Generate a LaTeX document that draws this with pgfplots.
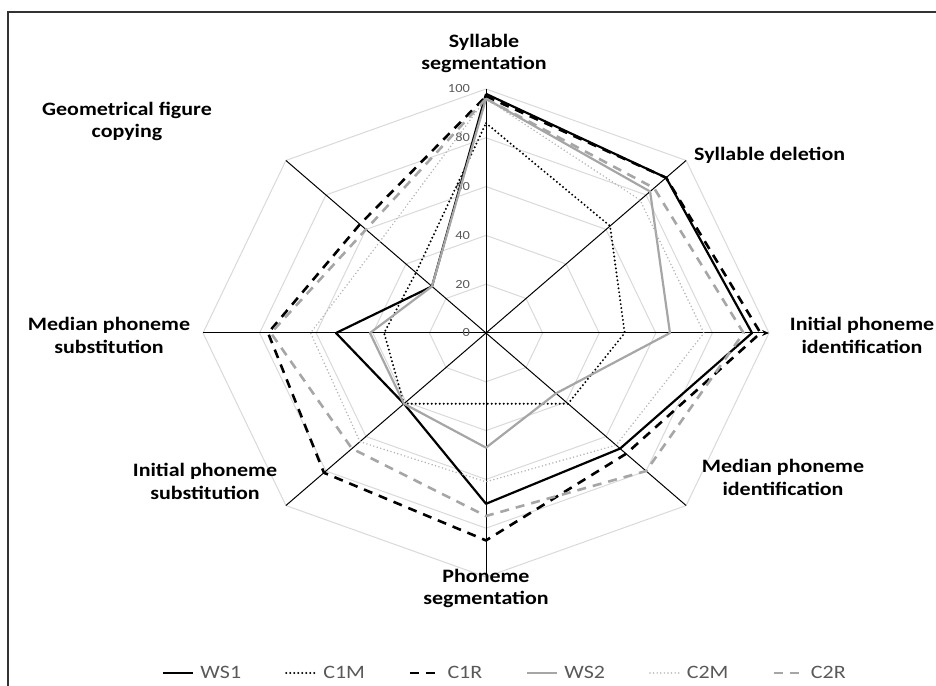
\documentclass[border=0pt]{standalone}
\usepackage{pgfplots}
\pgfplotsset{compat=1.18}
\usepackage{pgfplotstable}
\usepackage{fontspec}
\setmainfont{Carlito}[FakeStretch=1.16]
\usetikzlibrary{arrows.meta}
\definecolor{gridc}{HTML}{D9D9D9}
\definecolor{grayA}{HTML}{A6A6A6}
\definecolor{grayB}{HTML}{B4B4B4}
\definecolor{legc}{HTML}{595959}

\pgfplotstableread{
ang WS1 C1M C1R WS2 C2M C2R
90 98 86 97 96 96 96
45 90 62 90 82 77 84
0 94 49 97 65 77 91
-45 67 41 70 35 65 80
-90 70 29 85 47 61 75
-135 41 41 81 41 63 67
-180 53 36 77 41 62 76
-225 27 35 63 27 53 60
-270 98 86 97 96 96 96
}\radar

\begin{document}
\begin{tikzpicture}[x=1bp,y=1bp]
\useasboundingbox (0,0) rectangle (936,686);
\draw[black!80, line width=1.5bp] (8,-5) -- (8,674) -- (945,674);
\begin{axis}[
  at={(188.85bp,96.8bp)}, anchor=south west,
  x=2.83bp, y=2.44bp,
  xmin=-105, xmax=105, ymin=-105, ymax=105,
  hide axis, clip=false,
  legend columns=6,
  legend style={at={(0.532,-0.1635)}, anchor=center, draw=none, fill=none,
    font=\fontsize{19}{23}\selectfont, text=legc,
    /tikz/every odd column/.append style={column sep=4bp},
    /tikz/every even column/.append style={column sep=42bp},
    inner sep=0pt},
  legend image code/.code={\draw[#1] (0bp,0bp) -- (30bp,0bp);},
]
% grid
\pgfplotsinvokeforeach{20,40,60,80,100}{
  \draw[gridc, line width=1bp] (axis cs:0,#1) -- (axis cs:{0.7071*#1},{0.7071*#1}) -- (axis cs:#1,0) -- (axis cs:{0.7071*#1},{-0.7071*#1}) -- (axis cs:0,-#1) -- (axis cs:{-0.7071*#1},{-0.7071*#1}) -- (axis cs:-#1,0) -- (axis cs:{-0.7071*#1},{0.7071*#1}) -- cycle;
}
% spokes
\draw[black, line width=1bp] (axis cs:0,0) -- (axis cs:0,100);
\draw[black, line width=1bp] (axis cs:0,0) -- (axis cs:70.71,70.71);
\draw[black, line width=1bp, -{Stealth[length=7bp,width=6bp]}] (axis cs:0,0) -- (axis cs:100,0);
\draw[black, line width=1bp] (axis cs:0,0) -- (axis cs:70.71,-70.71);
\draw[black, line width=1bp] (axis cs:0,0) -- (axis cs:0,-100);
\draw[black, line width=1bp] (axis cs:0,0) -- (axis cs:-70.71,-70.71);
\draw[black, line width=1bp] (axis cs:0,0) -- (axis cs:-100,0);
\draw[black, line width=1bp] (axis cs:0,0) -- (axis cs:-70.71,70.71);
% ticks
\pgfplotsinvokeforeach{0,20,40,60,80,100}{
  \node[anchor=east, inner sep=0pt, text=legc, font=\fontsize{12.5}{14}\selectfont] at (axis cs:-5.6,#1) {#1};
}
% series
\addplot[black, line width=2.2bp, line join=round] table[x expr={\thisrow{WS1}*cos(\thisrow{ang})}, y expr={\thisrow{WS1}*sin(\thisrow{ang})}] {\radar};
\addlegendentry{WS1}
\addplot[black, line width=2.2bp, line cap=round, dash pattern=on 0bp off 4bp] table[x expr={\thisrow{C1M}*cos(\thisrow{ang})}, y expr={\thisrow{C1M}*sin(\thisrow{ang})}] {\radar};
\addlegendentry{C1M}
\addplot[black, line width=2.6bp, dash pattern=on 9bp off 7bp] table[x expr={\thisrow{C1R}*cos(\thisrow{ang})}, y expr={\thisrow{C1R}*sin(\thisrow{ang})}] {\radar};
\addlegendentry{C1R}
\addplot[grayA, line width=2.2bp, line join=round] table[x expr={\thisrow{WS2}*cos(\thisrow{ang})}, y expr={\thisrow{WS2}*sin(\thisrow{ang})}] {\radar};
\addlegendentry{WS2}
\addplot[grayB, line width=1.7bp, line cap=round, dash pattern=on 0bp off 3.6bp] table[x expr={\thisrow{C2M}*cos(\thisrow{ang})}, y expr={\thisrow{C2M}*sin(\thisrow{ang})}] {\radar};
\addlegendentry{C2M}
\addplot[grayA, line width=2.6bp, dash pattern=on 9bp off 7bp] table[x expr={\thisrow{C2R}*cos(\thisrow{ang})}, y expr={\thisrow{C2R}*sin(\thisrow{ang})}] {\radar};
\addlegendentry{C2R}
\end{axis}
% category labels
\begin{scope}[every node/.style={align=center, font=\bfseries\fontsize{19}{23}\selectfont, inner sep=0pt}]
\node at (484,632.5) {Syllable\\segmentation};
\node[anchor=west] at (694,531) {Syllable deletion};
\node at (862,351) {Initial phoneme\\identification};
\node at (783,208.5) {Median phoneme\\identification};
\node at (486,97.5) {Phoneme\\segmentation};
\node at (205,204.5) {Initial phoneme\\substitution};
\node at (109,351) {Median phoneme\\substitution};
\node at (127,564.5) {Geometrical figure\\copying};
\end{scope}
\end{tikzpicture}
\end{document}
